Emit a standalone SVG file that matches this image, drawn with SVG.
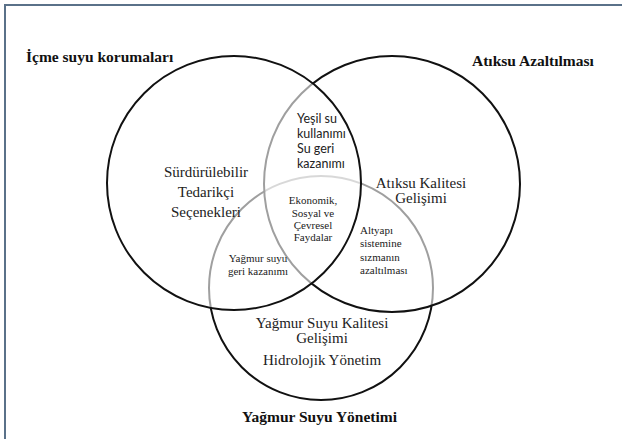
<svg xmlns="http://www.w3.org/2000/svg" width="622" height="439" viewBox="0 0 622 439">
<style>
.circ{stroke:#111;stroke-width:2;}
.veil{fill:#fff;fill-opacity:0.6;}
.serif{font-family:'Liberation Serif','Times New Roman','DejaVu Serif',serif;}
.title{font-weight:bold;font-size:15.5px;fill:#111;}
.big{font-size:15px;fill:#222;text-anchor:middle;}
.small{font-size:11px;fill:#222;}
.sans{font-family:Lato,'Open Sans',sans-serif;font-size:12.5px;fill:#222;}
</style>
<rect width="622" height="439" fill="#fff"/>
<g id="frame" stroke="#5a7189" stroke-width="2" fill="none">
<line x1="4" y1="5" x2="622" y2="5"/>
<line x1="5" y1="4" x2="5" y2="439"/>
</g>
<g id="circles">
<g id="yagmur"><circle class="circ veil" cx="321" cy="288" r="112"/></g>
<g id="atiksu"><circle class="circ veil" cx="392" cy="184" r="128"/></g>
<g id="icme"><circle class="circ veil" cx="234" cy="183" r="127"/></g>
</g>
<g id="labels">
<text class="serif title" x="26" y="62">İçme suyu korumaları</text>
<text class="serif title" x="472" y="66">Atıksu Azaltılması</text>
<text class="serif title" x="242" y="422">Yağmur Suyu Yönetimi</text>
<text class="serif big"><tspan x="206" y="177">Sürdürülebilir</tspan><tspan x="206" y="197">Tedarikçi</tspan><tspan x="206" y="217">Seçenekleri</tspan></text>
<text class="serif big"><tspan x="421" y="188">Atıksu Kalitesi</tspan><tspan x="421" y="203">Gelişimi</tspan></text>
<text class="serif big"><tspan x="322" y="328">Yağmur Suyu Kalitesi</tspan><tspan x="322" y="343">Gelişimi</tspan><tspan x="322" y="365">Hidrolojik Yönetim</tspan></text>
<text class="sans"><tspan x="297" y="123">Yeşil su</tspan><tspan x="297" y="138">kullanımı</tspan><tspan x="297" y="153">Su geri</tspan><tspan x="297" y="168">kazanımı</tspan></text>
<text class="serif small" text-anchor="middle"><tspan x="313" y="204">Ekonomik,</tspan><tspan x="313" y="217">Sosyal ve</tspan><tspan x="313" y="229">Çevresel</tspan><tspan x="313" y="241">Faydalar</tspan></text>
<text class="serif small"><tspan x="360" y="234">Altyapı</tspan><tspan x="360" y="247">sistemine</tspan><tspan x="360" y="261">sızmanın</tspan><tspan x="360" y="274">azaltılması</tspan></text>
<text class="serif small" text-anchor="middle"><tspan x="258" y="262">Yağmur suyu</tspan><tspan x="258" y="275">geri kazanımı</tspan></text>
</g>
</svg>
